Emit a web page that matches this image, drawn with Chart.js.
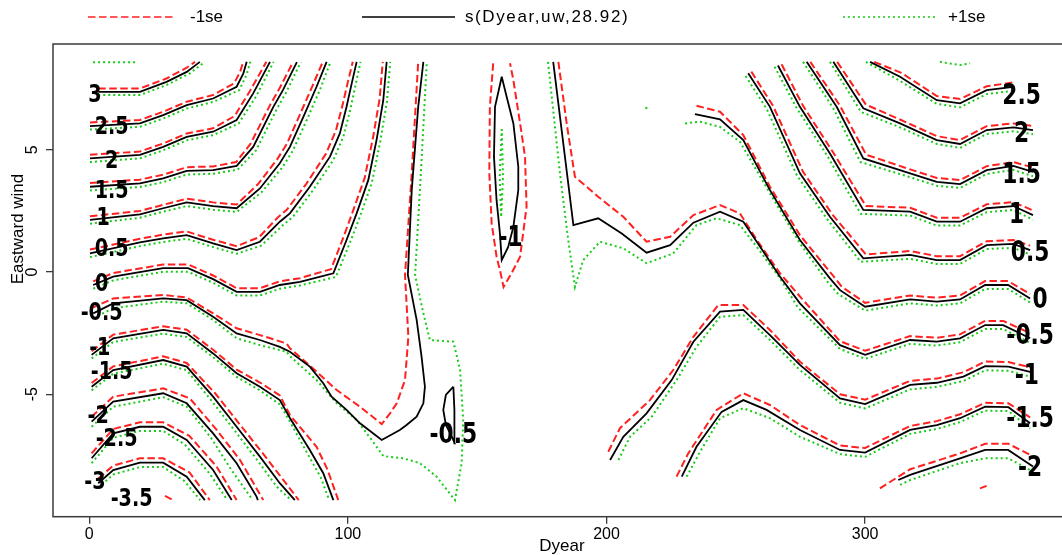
<!DOCTYPE html>
<html>
<head>
<meta charset="utf-8">
<script src="https://cdn.jsdelivr.net/npm/chart.js@4.4.0/dist/chart.umd.min.js"></script>
<style>
  html, body { margin: 0; padding: 0; background: #fff; overflow: hidden; }
  #wrap { width: 1062px; height: 555px; overflow: hidden; }
</style>
</head>
<body>
<div id="wrap"><canvas id="c" width="1072" height="555" style="width:1072px;height:555px"></canvas></div>
<script>
/* ══════════════════════════════════════════════════════════════
   Contour plot of s(Dyear,uw) with ±1 se contours
   x = Dyear, y = Eastward wind. FIT = black, LO = -1se, HI = +1se
   ══════════════════════════════════════════════════════════════ */

const X_TICKS = [0, 100, 200, 300];
const Y_TICKS = [-5, 0, 5];
const X_RANGE = [-14.0, 379.6];
const Y_RANGE = [-10.01, 9.33];
const LEGEND_LABELS = ['-1se', 's(Dyear,uw,28.92)', '+1se'];

// ── left block ──
const FIT_L3 = [[3.5,7.37],[19.6,7.37],[29.9,7.78],[37.7,8.19],[42.8,8.6]];
const LO_L3 = [[3.5,7.51],[19.6,7.51],[29.9,7.92],[37.7,8.36],[40.9,8.6]];
const HI_L3 = [[3.5,7.24],[19.6,7.24],[29.9,7.65],[38.9,8.13],[44.7,8.6]];
const HI_L35 = [[1.5,8.58],[18.9,8.58]];

const FIT_L25 = [[0.3,5.97],[19.6,6.08],[28.6,6.42],[37.7,6.83],[47.9,7.10],[57.0,7.58],[59.6,8.13],[60.9,8.6]];
const LO_L25 = [[0.3,6.12],[19.6,6.22],[28.6,6.56],[37.7,6.97],[47.9,7.24],[56.0,7.72],[58.4,8.2],[59.5,8.6]];
const HI_L25 = [[0.3,5.83],[19.6,5.94],[28.6,6.28],[37.7,6.69],[47.9,6.96],[58.0,7.44],[60.8,8.06],[62.3,8.6]];

const FIT_L2 = [[0.3,4.65],[19.6,4.79],[28.6,5.12],[37.7,5.53],[47.9,5.74],[57.0,6.22],[63.4,7.31],[69.9,8.6]];
const LO_L2 = [[0.3,4.80],[19.6,4.93],[28.6,5.26],[37.7,5.67],[47.9,5.88],[56.2,6.38],[62.2,7.42],[68.5,8.6]];
const HI_L2 = [[0.3,4.50],[19.6,4.65],[28.6,4.98],[37.7,5.39],[47.9,5.60],[57.8,6.08],[64.6,7.2],[71.3,8.6]];

const FIT_L15 = [[0.3,3.49],[19.6,3.63],[28.6,3.83],[37.7,4.14],[47.9,4.17],[57.0,4.34],[63.4,5.12],[71.2,6.76],[74.9,7.44],[80.3,8.59]];
const LO_L15 = [[0.3,3.64],[19.6,3.78],[28.6,3.98],[37.7,4.29],[47.9,4.32],[56.8,4.5],[62.4,5.25],[70.0,6.85],[73.6,7.52],[78.8,8.59]];
const HI_L15 = [[0.3,3.34],[19.6,3.48],[28.6,3.68],[37.7,3.99],[47.9,4.02],[57.4,4.19],[64.5,4.98],[72.5,6.66],[76.2,7.36],[81.8,8.59]];

const FIT_L1 = [[0.3,2.13],[19.6,2.36],[28.6,2.61],[37.7,2.85],[47.9,2.70],[57.0,2.61],[66.0,3.42],[73.7,4.45],[77.6,5.12],[82.8,6.35],[87.9,7.58],[91.8,8.6]];
const LO_L1 = [[0.3,2.28],[19.6,2.50],[28.6,2.75],[37.7,3.0],[47.9,2.85],[57.0,2.76],[65.3,3.6],[72.6,4.6],[76.4,5.24],[81.5,6.45],[86.5,7.66],[90.3,8.6]];
const HI_L1 = [[0.3,1.98],[19.6,2.22],[28.6,2.47],[37.7,2.70],[47.9,2.55],[57.0,2.46],[66.8,3.28],[74.8,4.3],[78.8,4.98],[84.1,6.22],[89.3,7.48],[93.3,8.6]];

const FIT_L05 = [[0.3,0.76],[19.6,1.21],[28.6,1.38],[37.7,1.51],[47.9,1.17],[57.0,0.90],[66.0,1.24],[73.7,2.06],[77.6,2.40],[85.3,3.49],[93.1,4.72],[96.9,5.67],[99.5,6.76],[101.5,7.72],[103.4,8.6]];
const LO_L05 = [[0.3,0.92],[19.6,1.36],[28.6,1.53],[37.7,1.66],[47.9,1.32],[57.0,1.06],[65.6,1.42],[72.8,2.22],[76.5,2.56],[84.0,3.62],[91.6,4.85],[95.4,5.8],[98.0,6.85],[100.0,7.78],[101.9,8.6]];
const HI_L05 = [[0.3,0.61],[19.6,1.06],[28.6,1.23],[37.7,1.36],[47.9,1.02],[57.0,0.75],[66.5,1.08],[74.7,1.9],[78.7,2.25],[86.6,3.36],[94.5,4.6],[98.3,5.55],[101.0,6.67],[103.0,7.66],[104.9,8.6]];

const FIT_L0 = [[1.55,-0.53],[9.28,-0.19],[28.6,0.16],[38.2,0.16],[47.9,-0.29],[57.0,-0.81],[66.0,-0.81],[73.7,-0.53],[81.5,-0.40],[94.4,-0.05],[99.5,1.31],[103.4,2.40],[107.9,3.76],[111.1,5.40],[113.7,7.03],[115.0,8.6]];
const LO_L0 = [[1.55,-0.38],[9.28,-0.04],[28.6,0.31],[38.2,0.31],[47.9,-0.14],[57.0,-0.66],[66.0,-0.66],[73.7,-0.38],[81.5,-0.25],[93.5,0.12],[98.2,1.4],[102.0,2.5],[106.5,3.85],[109.7,5.48],[112.3,7.1],[113.5,8.6]];
const HI_L0 = [[1.55,-0.68],[9.28,-0.34],[28.6,0.01],[38.2,0.01],[47.9,-0.44],[57.0,-0.96],[66.0,-0.96],[73.7,-0.68],[81.5,-0.55],[95.4,-0.2],[100.8,1.2],[104.8,2.3],[109.3,3.66],[112.5,5.32],[115.1,6.96],[116.4,8.6]];

const FIT_LM05 = [[1.55,-1.69],[9.28,-1.28],[28.6,-1.08],[37.7,-1.15],[47.9,-1.83],[57.0,-2.51],[66.0,-2.78],[73.7,-3.06],[77.6,-3.26],[85.3,-3.87],[90.5,-4.55],[93.7,-5.10],[99.5,-5.64],[104.7,-6.19],[113.1,-6.87],[120.1,-6.46],[122.7,-6.26],[126.6,-5.92],[129.2,-5.37],[129.8,-4.69],[128.5,-3.46],[126.6,-1.96],[123.2,-0.12],[124.7,3.35],[127.2,6.76],[129.2,8.6]];
const LO_LM05 = [[0.93,-1.48],[9.28,-1.08],[28.6,-0.94],[37.7,-1.04],[47.9,-1.69],[57.0,-2.30],[66.0,-2.58],[76.3,-2.92],[77.6,-3.12],[87.2,-4.01],[95.7,-4.83],[104.7,-5.51],[113.1,-6.22],[116.3,-5.78],[118.9,-5.37],[122.1,-4.42],[123.4,-2.65],[122.1,-0.12],[124.7,4.04],[127.2,8.6]];
const HI_LM05 = [[1.55,-1.89],[9.28,-1.48],[28.6,-1.21],[37.7,-1.28],[47.9,-1.96],[57.0,-2.71],[66.0,-2.99],[76.3,-3.26],[77.6,-3.44],[87.9,-4.42],[95.7,-5.37],[103.4,-6.05],[109.2,-6.87],[113.7,-7.53],[121.4,-7.62],[127.9,-7.82],[134.3,-8.37],[141.4,-9.33],[144.0,-7.82],[144.6,-6.05],[143.4,-4.01],[140.8,-2.85],[131.7,-2.78],[129.2,-1.69],[126.0,-0.12],[128.3,4.17],[130.5,8.55]];

const FIT_LM1 = [[0.93,-3.39],[9.28,-2.71],[28.6,-2.37],[37.7,-2.51],[47.9,-3.33],[57.0,-4.14],[66.0,-4.69],[73.7,-5.24],[77.6,-5.97],[85.3,-7.28],[90.5,-8.23],[94.4,-9.33]];
const LO_LM1 = [[0.93,-3.24],[9.28,-2.56],[28.6,-2.22],[37.7,-2.36],[47.9,-3.18],[57.0,-3.99],[66.0,-4.52],[73.7,-5.05],[77.6,-5.85],[87.9,-7.15],[92.0,-8.05],[96.3,-9.33]];
const HI_LM1 = [[0.93,-3.54],[9.28,-2.86],[28.6,-2.52],[37.7,-2.66],[47.9,-3.48],[57.0,-4.29],[66.0,-4.84],[73.7,-5.42],[77.6,-6.12],[84.5,-7.45],[89.5,-8.4],[92.8,-9.33]];

const FIT_LM15 = [[0.93,-4.69],[9.28,-4.01],[28.6,-3.60],[37.7,-3.87],[47.9,-5.10],[57.0,-6.33],[66.0,-7.55],[73.7,-8.64],[79.5,-9.33]];
const LO_LM15 = [[0.93,-4.54],[9.28,-3.86],[28.6,-3.45],[37.7,-3.72],[48.6,-4.95],[57.8,-6.18],[67.0,-7.4],[75.0,-8.5],[81.0,-9.33]];
const HI_LM15 = [[0.93,-4.84],[9.28,-4.16],[28.6,-3.75],[37.7,-4.02],[47.2,-5.25],[56.2,-6.48],[65.0,-7.7],[72.5,-8.78],[78.0,-9.33]];

const FIT_LM2 = [[0.93,-6.12],[9.28,-5.30],[28.6,-4.96],[37.7,-5.37],[47.9,-6.60],[57.0,-7.82],[64.7,-9.19],[65.2,-9.33]];
const LO_LM2 = [[0.93,-5.92],[9.28,-5.10],[28.6,-4.76],[38.9,-5.17],[49.3,-6.46],[58.3,-7.69],[67.3,-9.33]];
const HI_LM2 = [[0.93,-6.33],[9.28,-5.51],[28.6,-5.12],[37.7,-5.51],[47.2,-6.80],[55.0,-8.10],[63.2,-9.33]];

const FIT_LM25 = [[0.93,-7.62],[9.28,-6.60],[19.6,-6.33],[28.6,-6.33],[37.7,-6.87],[47.9,-8.10],[55.1,-9.33]];
const LO_LM25 = [[0.93,-7.42],[9.28,-6.42],[19.6,-6.15],[28.6,-6.15],[38.7,-6.7],[49.2,-7.95],[57.0,-9.33]];
const HI_LM25 = [[0.93,-7.82],[9.28,-6.78],[19.6,-6.5],[28.6,-6.5],[36.9,-7.05],[46.6,-8.25],[53.4,-9.33]];

const FIT_LM3 = [[3.48,-8.64],[9.28,-8.10],[19.6,-7.80],[28.6,-7.80],[37.7,-8.37],[44.7,-9.33]];
const LO_LM3 = [[3.48,-8.45],[9.28,-7.92],[19.6,-7.62],[28.6,-7.62],[38.8,-8.2],[46.6,-9.33]];
const HI_LM3 = [[3.48,-8.84],[9.28,-8.28],[19.6,-7.98],[28.6,-7.98],[36.8,-8.55],[42.9,-9.33]];
const LO_LM35 = [[29.3,-9.16],[32.4,-9.33]];

// ── middle ──
const FIT_M1 = [[159.5,7.99],[156.9,6.76],[156.5,4.72],[157.5,2.94],[158.8,1.58],[159.5,0.49],[162.0,1.03],[164.0,1.85],[165.9,3.35],[165.9,4.31],[164.0,6.08],[161.4,7.17],[159.5,7.99]];
const LO_M1 = [[156.2,8.54],[154.9,6.76],[154.7,4.04],[155.6,1.99],[157.5,0.63],[158.8,0.08],[160.2,-0.61],[163.3,-0.05],[166.6,0.63],[169.1,2.67],[168.5,4.72],[166.6,6.08],[164.0,7.85],[162.7,8.54]];
const HI_M1 = [[159.5,5.85],[158.7,3.9],[159.3,2.25],[160.0,3.9],[159.5,5.85]];
const FIT_M05 = [[140.8,-4.69],[137.9,-5.03],[136.9,-5.64],[137.9,-6.26],[140.3,-6.75],[141.3,-7.01],[141.2,-5.64],[140.8,-4.69]];
const HI_MDOT = [[215.3,6.75],[215.7,6.62]];

// ── right block ──
const FIT_R25 = [[301.9,8.6],[313.5,7.99],[327.7,7.03],[336.7,6.90],[347.0,7.44],[357.3,7.58]];
const LO_R25 = [[303.5,8.6],[314.0,8.15],[327.7,7.2],[336.7,7.08],[347.0,7.6],[357.3,7.76]];
const HI_R25 = [[300.3,8.6],[313.0,7.85],[327.7,6.88],[336.7,6.74],[347.0,7.28],[357.3,7.42]];
const HI_RTOP = [[328.9,8.6],[336.7,8.47],[340.6,8.54]];

const FIT_R2 = [[287.7,8.6],[299.3,6.70],[313.5,6.08],[327.7,5.40],[336.7,5.24],[347.0,5.81],[357.3,5.92],[364.9,5.81]];
const LO_R2 = [[289.2,8.6],[300.3,6.85],[313.5,6.24],[327.7,5.56],[336.7,5.4],[347.0,5.97],[357.3,6.08],[364.9,5.98]];
const HI_R2 = [[286.4,8.6],[298.4,6.55],[313.5,5.92],[327.7,5.24],[336.7,5.08],[347.0,5.65],[357.3,5.76],[364.9,5.64]];

const FIT_R15 = [[277.4,8.6],[289.0,6.76],[299.3,4.65],[317.4,4.04],[327.7,3.69],[336.7,3.60],[347.0,4.17],[357.3,4.34],[364.9,4.10]];
const LO_R15 = [[278.8,8.6],[290.2,6.82],[300.4,4.8],[317.4,4.2],[327.7,3.85],[336.7,3.76],[347.0,4.33],[357.3,4.5],[364.9,4.28]];
const HI_R15 = [[276.0,8.6],[287.7,6.7],[298.2,4.5],[317.4,3.88],[327.7,3.53],[336.7,3.44],[347.0,4.01],[357.3,4.18],[364.9,3.92]];

const FIT_R1 = [[266.3,8.45],[274.8,6.76],[286.4,4.85],[299.3,2.54],[317.4,2.47],[327.7,2.06],[336.7,2.06],[347.0,2.61],[357.3,2.70],[364.9,2.33]];
const LO_R1 = [[267.7,8.5],[276.0,6.8],[287.6,4.9],[300.3,2.7],[317.4,2.63],[327.7,2.22],[336.7,2.22],[347.0,2.77],[357.3,2.86],[364.9,2.52]];
const HI_R1 = [[265.0,8.4],[273.6,6.7],[285.2,4.78],[298.3,2.38],[317.4,2.31],[327.7,1.90],[336.7,1.90],[347.0,2.45],[357.3,2.54],[364.9,2.14]];

const FIT_R05 = [[254.8,8.13],[263.2,6.76],[274.8,4.04],[286.4,2.26],[299.3,0.56],[317.4,0.70],[327.7,0.49],[336.7,0.49],[347.0,1.10],[357.3,1.15],[363.8,0.90]];
const LO_R05 = [[256.0,8.2],[264.4,6.8],[276.0,4.1],[287.6,2.32],[300.3,0.72],[317.4,0.86],[327.7,0.65],[336.7,0.65],[347.0,1.26],[357.3,1.31],[363.8,1.08]];
const HI_R05 = [[253.8,8.02],[262.0,6.66],[273.6,3.96],[285.2,2.18],[298.3,0.42],[317.4,0.54],[327.7,0.33],[336.7,0.33],[347.0,0.94],[357.3,0.99],[363.8,0.72]];

const FIT_R0 = [[234.2,6.46],[243.9,6.25],[252.9,5.40],[263.2,3.35],[274.8,1.31],[286.4,-0.26],[290.3,-0.74],[300.0,-1.42],[317.4,-1.12],[327.7,-1.21],[336.7,-1.12],[346.4,-0.53],[355.3,-0.53],[363.8,-1.08]];
const LO_R0 = [[234.8,6.80],[243.9,6.56],[252.9,5.60],[263.2,3.49],[274.8,1.51],[287.2,-0.1],[291.0,-0.6],[300.0,-1.26],[317.4,-0.96],[327.7,-1.05],[336.7,-0.96],[346.4,-0.37],[355.3,-0.37],[363.8,-0.9]];
const HI_R0 = [[230.4,6.08],[236.0,6.15],[243.9,5.94],[251.6,5.33],[263.2,3.22],[274.8,1.17],[285.6,-0.42],[289.6,-0.9],[300.0,-1.58],[317.4,-1.28],[327.7,-1.37],[336.7,-1.28],[346.4,-0.69],[355.3,-0.69],[363.8,-1.25]];

const FIT_RM05 = [[179.4,8.6],[187.2,1.92],[196.8,2.20],[205.9,1.58],[215.5,0.79],[224.6,1.10],[233.6,2.02],[243.9,2.47],[252.9,2.06],[259.4,1.03],[267.1,-0.19],[274.8,-1.28],[290.3,-2.99],[300.0,-3.39],[317.4,-2.78],[327.7,-2.85],[336.7,-2.71],[346.4,-2.17],[353.4,-2.17],[363.8,-2.71]];
const LO_RM05 = [[181.4,8.6],[184.6,6.08],[187.8,3.90],[196.8,3.08],[206.5,2.26],[215.5,1.24],[224.6,1.44],[233.6,2.33],[243.9,2.74],[251.6,2.40],[258.1,1.31],[267.1,-0.05],[275.6,-1.1],[290.3,-2.83],[300.0,-3.22],[317.4,-2.62],[327.7,-2.69],[336.7,-2.55],[346.4,-2.0],[353.4,-2.0],[363.8,-2.5]];
const HI_RM05 = [[177.4,8.6],[182.0,4.04],[185.2,1.31],[187.8,-0.61],[191.0,0.49],[197.5,1.24],[206.5,0.97],[215.5,0.36],[225.8,0.76],[234.8,1.92],[242.6,2.20],[251.6,1.92],[258.1,1.03],[267.1,-0.26],[274.0,-1.45],[290.3,-3.15],[300.0,-3.55],[317.4,-2.94],[327.7,-3.01],[336.7,-2.87],[346.4,-2.33],[353.4,-2.33],[363.8,-2.9]];

const FIT_RM1 = [[201.4,-7.69],[206.5,-6.74],[215.5,-5.78],[225.2,-4.42],[233.6,-2.85],[243.9,-1.62],[252.9,-1.55],[263.2,-2.58],[274.8,-3.80],[290.3,-5.17],[300.0,-5.40],[317.4,-4.62],[327.7,-4.53],[338.0,-4.28],[346.4,-3.85],[355.4,-3.87],[363.8,-4.08]];
const LO_RM1 = [[200.7,-7.35],[205.2,-6.39],[216.8,-5.24],[225.8,-4.01],[233.6,-2.65],[243.2,-1.35],[252.9,-1.35],[263.2,-2.37],[274.8,-3.67],[290.3,-5.0],[300.0,-5.22],[317.4,-4.45],[327.7,-4.36],[338.0,-4.1],[346.4,-3.66],[355.4,-3.68],[363.8,-3.9]];
const HI_RM1 = [[204.6,-7.69],[209.1,-6.74],[217.5,-5.92],[227.1,-4.42],[234.8,-3.06],[243.9,-1.83],[252.9,-1.76],[263.2,-2.78],[274.8,-4.01],[290.3,-5.35],[300.0,-5.58],[317.4,-4.8],[327.7,-4.7],[338.0,-4.46],[346.4,-4.02],[355.4,-4.04],[363.8,-4.28]];

const FIT_RM15 = [[229.1,-8.37],[234.8,-7.15],[244.5,-5.72],[252.9,-5.24],[261.9,-5.64],[274.8,-6.46],[290.3,-7.28],[300.0,-7.39],[317.4,-6.46],[327.7,-6.26],[336.7,-5.98],[346.4,-5.51],[355.4,-5.53],[363.8,-6.19]];
const LO_RM15 = [[227.1,-8.37],[231.6,-7.42],[242.6,-5.64],[252.9,-4.96],[263.2,-5.44],[274.8,-6.26],[290.3,-7.1],[300.0,-7.2],[317.4,-6.3],[327.7,-6.1],[336.7,-5.82],[346.4,-5.35],[355.4,-5.37],[363.8,-5.95]];
const HI_RM15 = [[231.0,-8.37],[236.2,-7.35],[243.9,-5.98],[252.9,-5.57],[263.2,-5.98],[274.8,-6.74],[290.3,-7.45],[300.0,-7.56],[317.4,-6.62],[327.7,-6.42],[336.7,-6.14],[346.4,-5.67],[355.4,-5.69],[363.8,-6.4]];

const FIT_RM2 = [[312.8,-8.51],[317.4,-8.30],[336.7,-7.62],[346.4,-7.28],[355.3,-7.28],[364.9,-7.96]];
const LO_RM2 = [[305.7,-8.85],[317.4,-8.07],[336.7,-7.42],[346.4,-7.03],[355.4,-7.03],[363.8,-7.48]];
const HI_RM2 = [[313.5,-8.71],[317.4,-8.51],[336.7,-7.82],[346.4,-7.62],[355.4,-7.62],[364.9,-8.17]];
const LO_RDASH = [[344.4,-8.85],[347.0,-8.75]];

// contour labels (hand written on the plot)
const LABEL_TEXT = ['3','2.5','2','1.5','1','0.5','0','-0.5','-1','-1.5','-2','-2.5','-3','-3.5',
                    '-1','-0.5',
                    '2.5','2','1.5','1','0.5','0','-0.5','-1','-1.5','-2'];
const LABEL_X = [2.2,8.7,8.7,8.7,5.4,8.7,4.8,4.8,4.1,8.7,3.5,10.6,2.2,16.4,
                 162.9,140.8,
                 360.5,360.5,360.5,358.6,363.8,367.6,363.8,362.5,363.8,363.8];
const LABEL_Y = [7.2,5.92,4.51,3.28,2.2,0.9,-0.53,-1.69,-3.12,-4.14,-5.92,-6.87,-8.64,-9.33,
                 1.38,-6.67,
                 7.17,5.64,3.97,2.33,0.76,-1.15,-2.65,-4.28,-6.05,-8.03];

/* ── build datasets ── */
const STYLE = {
  fit: { color: '#000000', width: 1.8, dash: [] },
  lo:  { color: '#ff2020', width: 2,   dash: [7.5, 3.5] },
  hi:  { color: '#18cc18', width: 2,   dash: [2, 3] },
};

const LINES = [
  ['hi', HI_L35], ['fit', FIT_L3], ['lo', LO_L3], ['hi', HI_L3],
  ['fit', FIT_L25], ['lo', LO_L25], ['hi', HI_L25],
  ['fit', FIT_L2], ['lo', LO_L2], ['hi', HI_L2],
  ['fit', FIT_L15], ['lo', LO_L15], ['hi', HI_L15],
  ['fit', FIT_L1], ['lo', LO_L1], ['hi', HI_L1],
  ['fit', FIT_L05], ['lo', LO_L05], ['hi', HI_L05],
  ['fit', FIT_L0], ['lo', LO_L0], ['hi', HI_L0],
  ['fit', FIT_LM05], ['lo', LO_LM05], ['hi', HI_LM05],
  ['fit', FIT_LM1], ['lo', LO_LM1], ['hi', HI_LM1],
  ['fit', FIT_LM15], ['lo', LO_LM15], ['hi', HI_LM15],
  ['fit', FIT_LM2], ['lo', LO_LM2], ['hi', HI_LM2],
  ['fit', FIT_LM25], ['lo', LO_LM25], ['hi', HI_LM25],
  ['fit', FIT_LM3], ['lo', LO_LM3], ['hi', HI_LM3], ['lo', LO_LM35],
  ['fit', FIT_M1], ['lo', LO_M1], ['hi', HI_M1], ['fit', FIT_M05], ['hi', HI_MDOT],
  ['fit', FIT_R25], ['lo', LO_R25], ['hi', HI_R25], ['hi', HI_RTOP],
  ['fit', FIT_R2], ['lo', LO_R2], ['hi', HI_R2],
  ['fit', FIT_R15], ['lo', LO_R15], ['hi', HI_R15],
  ['fit', FIT_R1], ['lo', LO_R1], ['hi', HI_R1],
  ['fit', FIT_R05], ['lo', LO_R05], ['hi', HI_R05],
  ['fit', FIT_R0], ['lo', LO_R0], ['hi', HI_R0],
  ['fit', FIT_RM05], ['lo', LO_RM05], ['hi', HI_RM05],
  ['fit', FIT_RM1], ['lo', LO_RM1], ['hi', HI_RM1],
  ['fit', FIT_RM15], ['lo', LO_RM15], ['hi', HI_RM15],
  ['fit', FIT_RM2], ['lo', LO_RM2], ['hi', HI_RM2], ['lo', LO_RDASH],
];

const datasets = LINES.map(([kind, pts]) => ({
  data: pts.map(p => ({ x: p[0], y: p[1] })),
  borderColor: STYLE[kind].color,
  borderWidth: STYLE[kind].width,
  borderDash: STYLE[kind].dash,
  pointRadius: 0, tension: 0, fill: false,
}));

/* ── extras: frame, rotated y labels, titles, legend, contour labels ── */
const decor = {
  id: 'decor',
  afterDatasetsDraw(chart) {
    const { ctx, scales: { x, y } } = chart;
    ctx.save();
    ctx.fillStyle = '#000';
    ctx.textAlign = 'center';
    ctx.textBaseline = 'middle';
    LABEL_TEXT.forEach((t, i) => {
      const small = LABEL_X[i] < 50;
      ctx.save();
      ctx.translate(x.getPixelForValue(LABEL_X[i]), y.getPixelForValue(LABEL_Y[i]));
      ctx.scale(small ? 0.8 : 0.75, 1);   // tall, narrow marker-pen digits
      ctx.font = (small ? 'bold 24px' : 'bold 29px') + ' "DejaVu Sans", sans-serif';
      ctx.fillText(t, 0, 0);
      ctx.restore();
    });
    ctx.restore();
  },
  afterDraw(chart) {
    const { ctx, chartArea: a, scales: { y } } = chart;
    ctx.save();
    // frame (right side falls outside the window)
    ctx.strokeStyle = '#3a3a3a';
    ctx.lineWidth = 1.5;
    ctx.strokeRect(a.left, a.top, a.right - a.left, a.bottom - a.top);

    // y tick labels, rotated like base R
    ctx.fillStyle = '#000';
    ctx.font = '16px "Liberation Sans", Arial, sans-serif';
    ctx.textAlign = 'center';
    ctx.textBaseline = 'middle';
    Y_TICKS.forEach(v => {
      ctx.save();
      ctx.translate(33, y.getPixelForValue(v));
      ctx.rotate(-Math.PI / 2);
      ctx.fillText(String(v), 0, 0);
      ctx.restore();
    });

    // axis titles
    ctx.font = '17px "Liberation Sans", Arial, sans-serif';
    ctx.fillText('Dyear', 562, 546);
    ctx.save();
    ctx.translate(18, 229);
    ctx.rotate(-Math.PI / 2);
    ctx.fillText('Eastward wind', 0, 0);
    ctx.restore();

    // legend strip
    const ly = 17;
    const seg = (x0, x1, st) => {
      ctx.beginPath();
      ctx.strokeStyle = st.color;
      ctx.lineWidth = 1.5;
      ctx.setLineDash(st.dash);
      ctx.moveTo(x0, ly); ctx.lineTo(x1, ly);
      ctx.stroke();
    };
    seg(88, 176, STYLE.lo);
    seg(362, 455, STYLE.fit);
    seg(843, 935, STYLE.hi);
    ctx.setLineDash([]);
    ctx.textAlign = 'left';
    ctx.font = '17px "Liberation Sans", Arial, sans-serif';
    ctx.fillText(LEGEND_LABELS[0], 190, ly);
    ctx.fillText(LEGEND_LABELS[2], 948, ly);
    ctx.letterSpacing = '1.6px';
    ctx.fillText(LEGEND_LABELS[1], 465, ly);
    ctx.restore();
  }
};

new Chart(document.getElementById('c'), {
  type: 'line',
  data: { datasets },
  options: {
    responsive: false,
    animation: false,
    devicePixelRatio: 1,
    layout: { padding: { top: 44, right: 1, left: 0, bottom: 0 } },
    plugins: { legend: { display: false }, tooltip: { enabled: false } },
    scales: {
      x: {
        type: 'linear', min: X_RANGE[0], max: X_RANGE[1],
        afterBuildTicks: s => { s.ticks = X_TICKS.map(v => ({ value: v })); },
        afterFit: s => { s.height = 555 - 516.7; },
        grid: { drawOnChartArea: false, drawTicks: true, tickLength: 7, color: '#3a3a3a', lineWidth: 1.3 },
        border: { display: false },
        ticks: { color: '#000', font: { family: 'Liberation Sans', size: 16 }, padding: 1, maxRotation: 0, autoSkip: false },
      },
      y: {
        type: 'linear', min: Y_RANGE[0], max: Y_RANGE[1],
        afterBuildTicks: s => { s.ticks = Y_TICKS.map(v => ({ value: v })); },
        afterFit: s => { s.width = 53; },
        grid: { drawOnChartArea: false, drawTicks: true, tickLength: 7, color: '#3a3a3a', lineWidth: 1.3 },
        border: { display: false },
        ticks: { display: false },
      }
    }
  },
  plugins: [decor]
});
</script>
</body>
</html>
